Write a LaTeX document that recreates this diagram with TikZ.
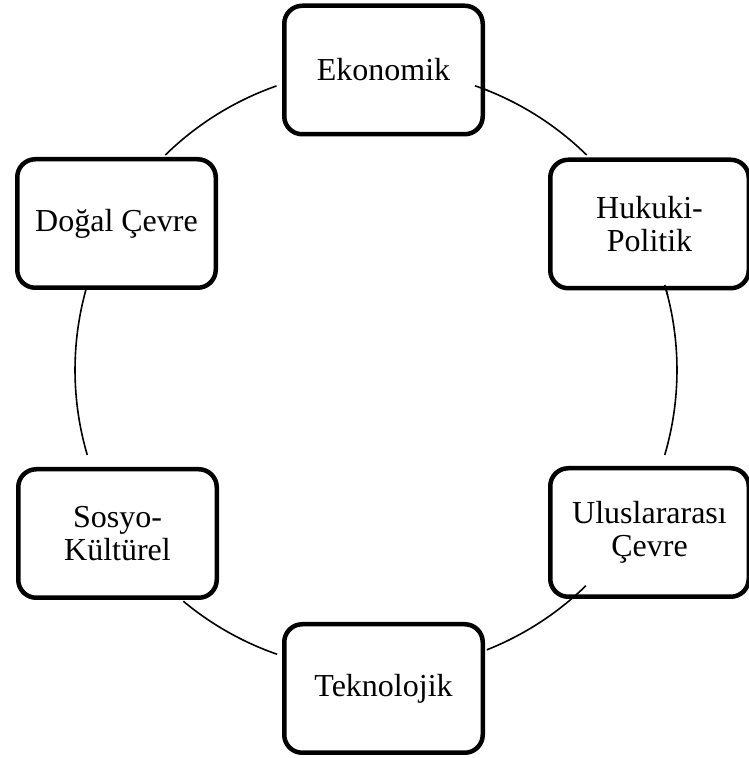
\documentclass[tikz,border=0pt]{standalone}
\usepackage{fontspec}
\setmainfont{Liberation Serif}
\begin{document}
\begin{tikzpicture}[x=1pt,y=1pt,
  cbox/.style={draw=black, line width=4.5pt, rounded corners=18pt, fill=white,
    minimum width=198.5pt, minimum height=128.5pt, align=center, inner sep=0pt,
    font=\fontsize{32}{32.5}\selectfont},
  cyc/.style={draw=black, line width=1.6pt}]
\useasboundingbox (0,0) rectangle (749,758);
\coordinate (c) at (376,388);
\def\R{301}
% arcs
\draw[cyc] ([shift={(70.8:\R)}]c) arc[start angle=70.8, end angle=45.6, radius=\R];
\draw[cyc] ([shift={(16.4:\R)}]c) arc[start angle=16.4, end angle=-16.4, radius=\R];
\draw[cyc] ([shift={(-45.8:\R)}]c) arc[start angle=-45.8, end angle=-68.4, radius=\R];
\draw[cyc] ([shift={(-109.2:\R)}]c) arc[start angle=-109.2, end angle=-129.8, radius=\R];
\draw[cyc] ([shift={(196.4:\R)}]c) arc[start angle=196.4, end angle=164.6, radius=\R];
\draw[cyc] ([shift={(134.4:\R)}]c) arc[start angle=134.4, end angle=109.3, radius=\R];
% boxes
\node[cbox] (eko) at (383.5,688) {Ekonomik};
\node[cbox] (huk) at (649.5,534) {Hukuki-\\Politik};
\node[cbox] (ulu) at (649.5,225.5) {Uluslararası\\Çevre};
\node[cbox] (tek) at (383.5,69.5) {Teknolojik};
\node[cbox] (sos) at (117.5,224.5) {Sosyo-\\Kültürel};
\node[cbox] (dog) at (116.5,534.5) {Doğal Çevre};
% arcs drawn over box borders where they overlap in the reference
\begin{scope}
\clip (eko.east) ++(-12,-30) rectangle ++(16,20);
\draw[cyc] ([shift={(70.8:\R)}]c) arc[start angle=70.8, end angle=45.6, radius=\R];
\end{scope}
\begin{scope}
\clip (huk.south) ++(0,-4) rectangle ++(40,10);
\draw[cyc] ([shift={(16.4:\R)}]c) arc[start angle=16.4, end angle=-16.4, radius=\R];
\end{scope}
\begin{scope}
\clip (ulu.south west) rectangle ++(45,25);
\draw[cyc] ([shift={(-45.8:\R)}]c) arc[start angle=-45.8, end angle=-68.4, radius=\R];
\end{scope}
\end{tikzpicture}
\end{document}
